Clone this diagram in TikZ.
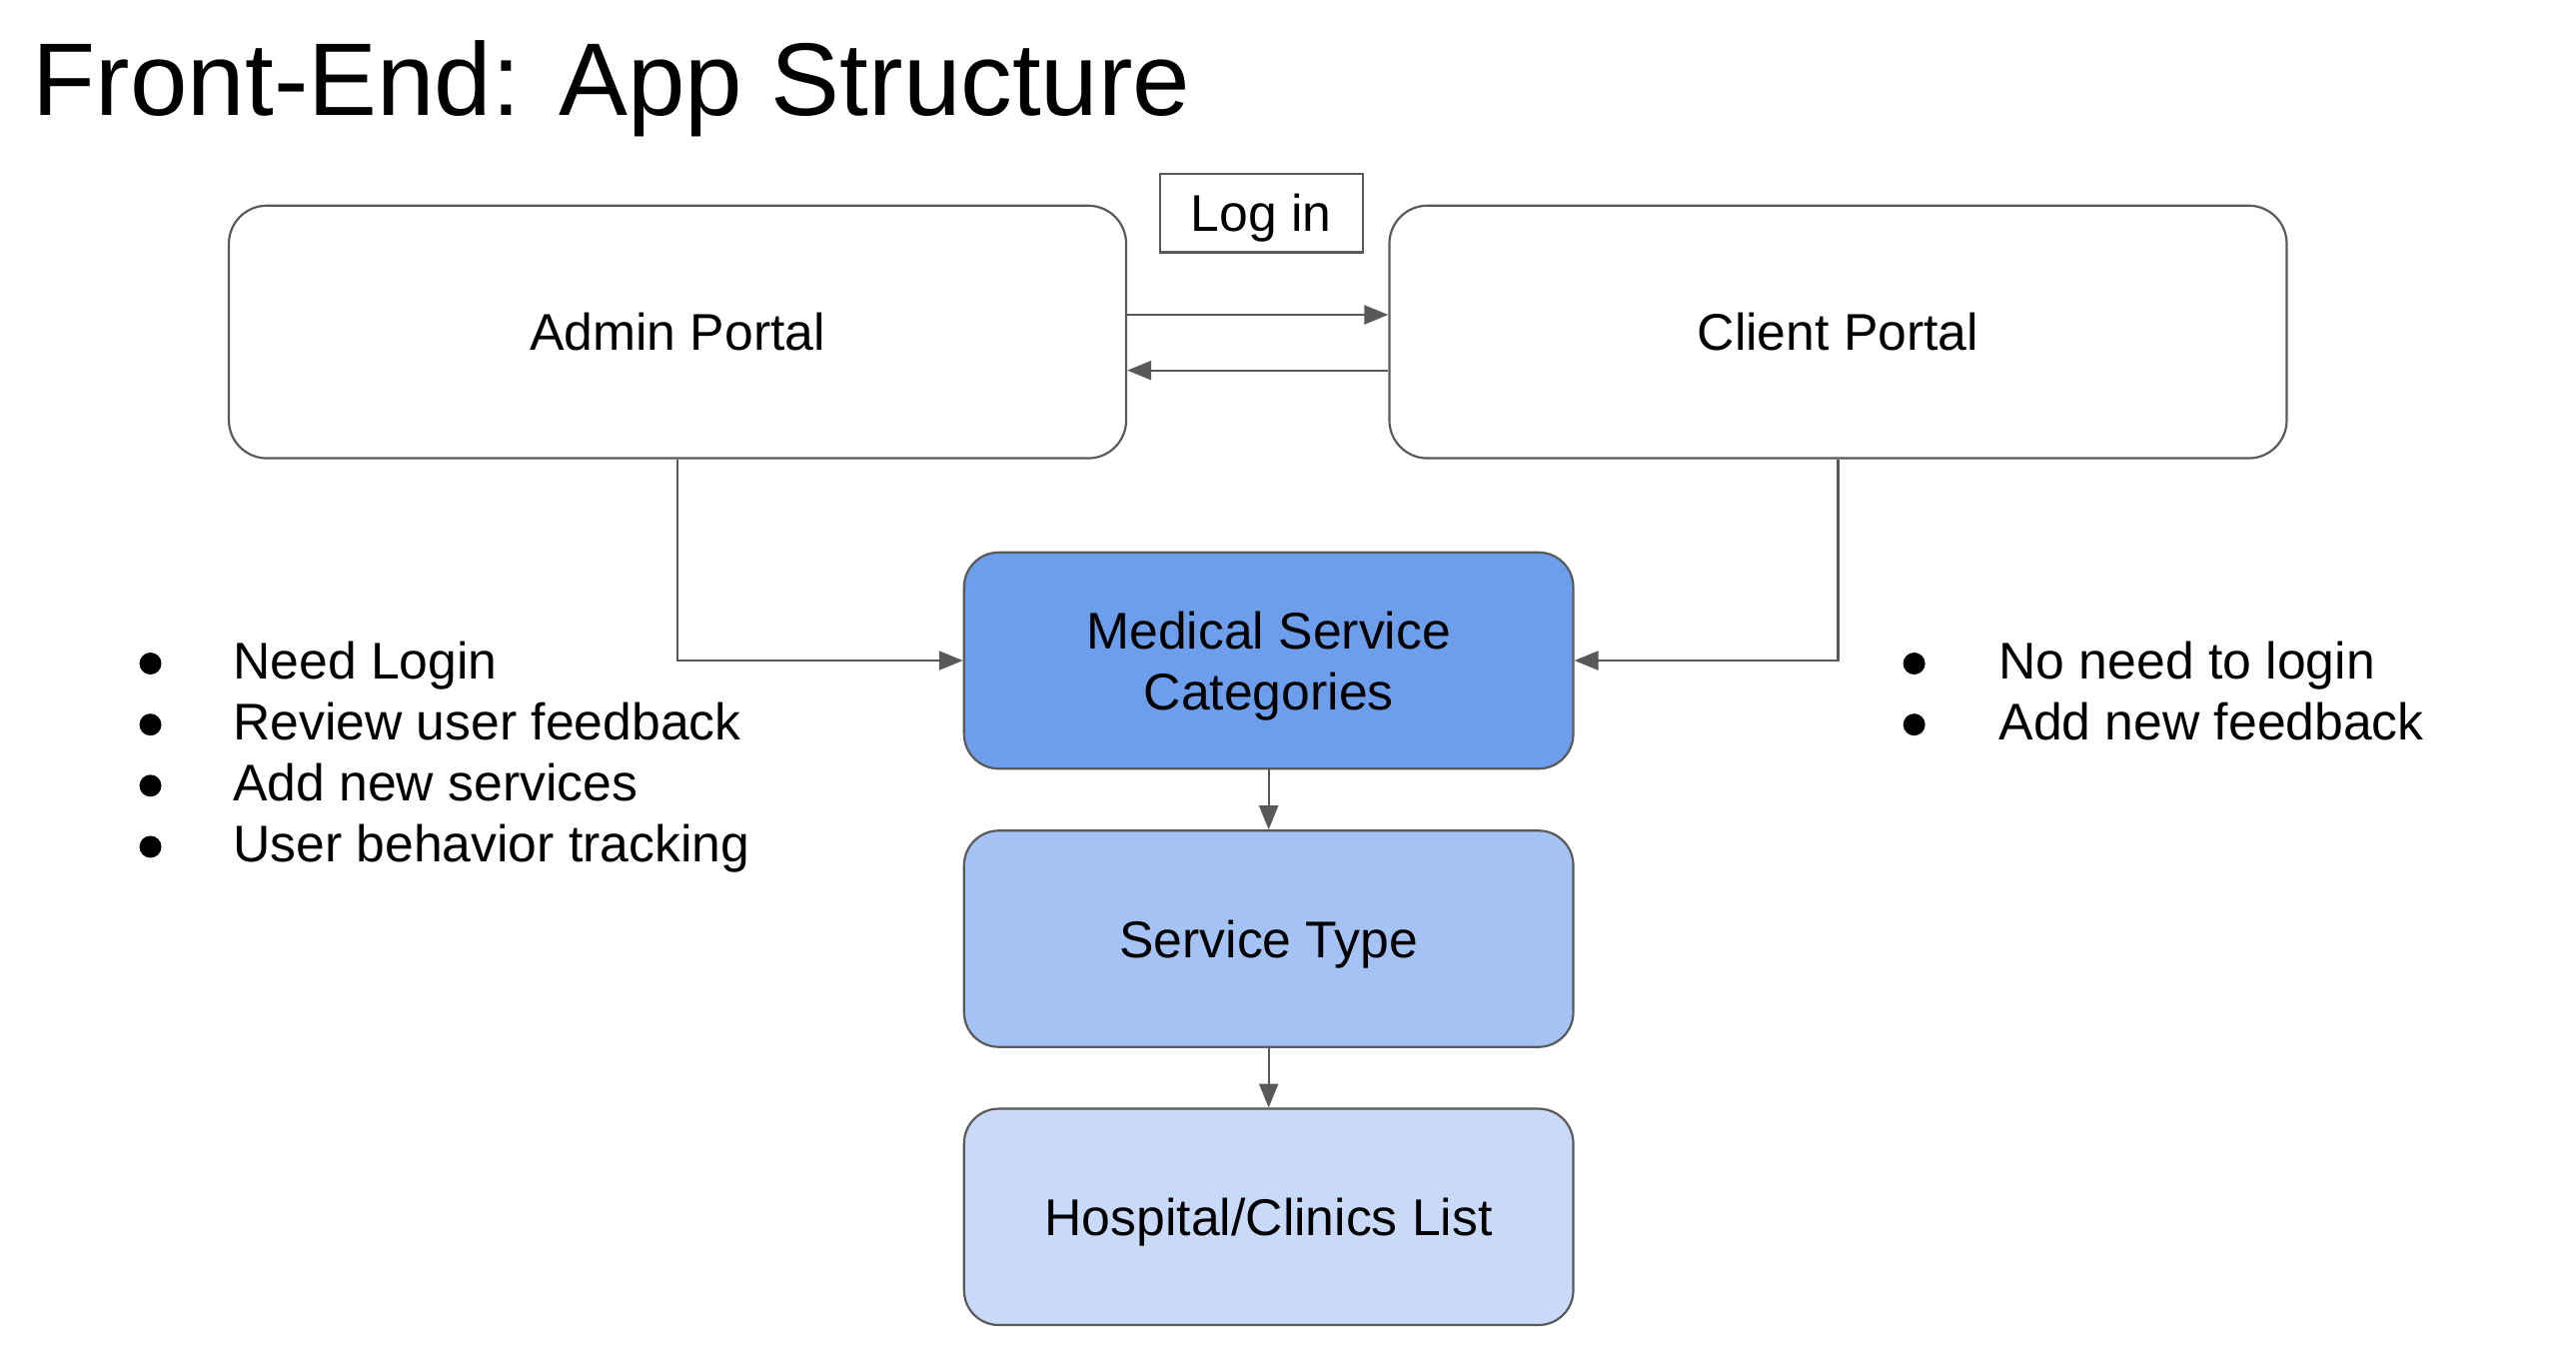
\documentclass[tikz,border=0pt]{standalone}
\usepackage{fontspec}
\setmainfont{Liberation Sans}
\usetikzlibrary{arrows.meta}

\definecolor{linegray}{HTML}{595959}
\definecolor{catblue}{HTML}{6D9EEB}
\definecolor{typeblue}{HTML}{A4C2F4}
\definecolor{listblue}{HTML}{C9DAF8}
\newcommand{\bodysize}{\fontsize{17.8}{21}\selectfont}

\begin{document}
\begin{tikzpicture}[x=0.02cm, y=-0.02cm,
   portal/.style={draw=linegray, line width=0.75pt, rounded corners=0.46cm,
      minimum width=10.87cm, minimum height=3.06cm, text depth=0pt, font=\bodysize},
   level/.style={draw=linegray, line width=0.75pt, rounded corners=0.42cm,
      minimum width=7.38cm, minimum height=2.62cm, align=center, text depth=0pt, font=\bodysize},
   link/.style={draw=linegray, line width=0.75pt, -{Triangle[length=0.29cm,width=0.23cm]}},
   item/.style={anchor=base west, inner sep=0pt, font=\bodysize}]
   \useasboundingbox (0,0) rectangle (1560,815.7);

   \node[anchor=base west, inner sep=0pt, font=\fontsize{35.6}{43}\selectfont] (title) at (19.5,69.6) {Front-End: App Structure};

   \node[portal] (admin) at (410.3,201) {Admin Portal};
   \node[portal] (client) at (1113.1,201) {Client Portal};
   \node[draw=linegray, line width=0.75pt, minimum width=2.46cm, minimum height=0.95cm,
      text depth=0pt, font=\bodysize] (login) at (763.9,129) {Log in};

   \node[level, fill=catblue] (cat) at (768.3,400) {Medical Service\\Categories};
   \node[level, fill=typeblue] (type) at (768.3,568.5) {Service Type};
   \node[level, fill=listblue] (list) at (768.3,736.9) {Hospital/Clinics List};

   \draw[link] ([yshift=0.208cm]admin.east) -- ([yshift=0.208cm]client.west);
   \draw[link] ([yshift=-0.466cm]client.west) -- ([yshift=-0.466cm]admin.east);
   \draw[link] (admin.south) |- (cat.west);
   \draw[link] (client.south) |- (cat.east);
   \draw[link] (cat) -- (type);
   \draw[link] (type) -- (list);

   \foreach \txt [count=\i from 0] in {Need Login, Review user feedback, Add new services, User behavior tracking} {
      \fill (91.1,401.8+37*\i) circle (0.133cm);
      \node[item] (anote\i) at (140.8,410.9+37*\i) {\txt};
   }
   \foreach \txt [count=\i from 0] in {No need to login, Add new feedback} {
      \fill (1159.2,401.8+37*\i) circle (0.133cm);
      \node[item] (cnote\i) at (1210.2,410.9+37*\i) {\txt};
   }

\end{tikzpicture}
\end{document}
